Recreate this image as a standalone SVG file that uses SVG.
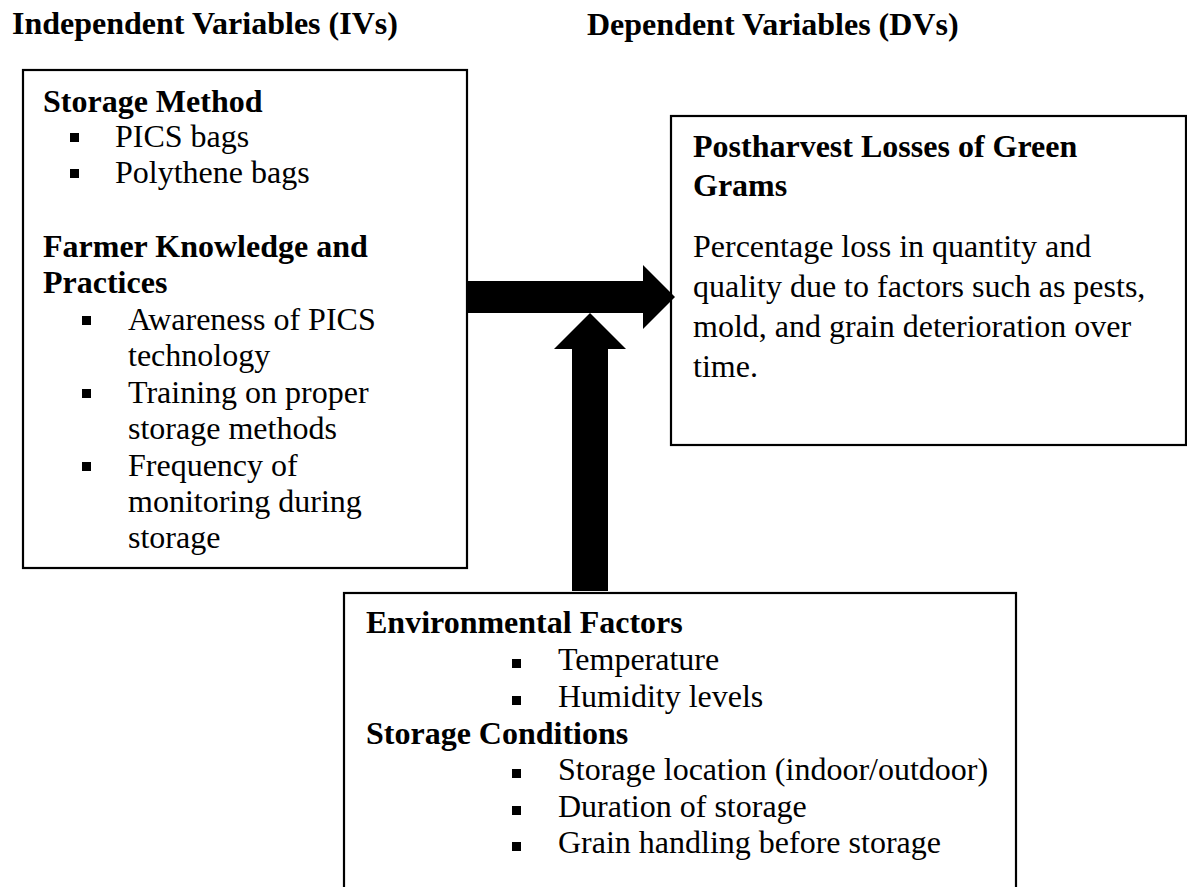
<svg xmlns="http://www.w3.org/2000/svg" width="1187" height="887" viewBox="0 0 1187 887">
  <style>
    .t { font-family: "Liberation Serif", "Times New Roman", serif; font-size: 32px; fill: #000; }
    .b { font-weight: bold; }
    .box { fill: #fff; stroke: #000; stroke-width: 2.2; }
    .bul { fill: #000; }
    .arrow { fill: #000; stroke: none; }
  </style>
  <rect width="1187" height="887" fill="#fff"/>

  <!-- column headings -->
  <g id="headings">
    <text class="t b" x="12" y="34">Independent Variables (IVs)</text>
    <text class="t b" x="587" y="35">Dependent Variables (DVs)</text>
  </g>

  <!-- independent variables -->
  <g id="node-iv">
    <rect class="box" x="23" y="70" width="444" height="498"/>
    <text class="t b" x="43" y="112">Storage Method</text>
    <rect class="bul" x="70" y="133" width="9" height="9"/>
    <text class="t" x="115" y="147">PICS bags</text>
    <rect class="bul" x="70" y="169" width="9" height="9"/>
    <text class="t" x="115" y="183">Polythene bags</text>
    <text class="t b" x="43" y="257">Farmer Knowledge and</text>
    <text class="t b" x="43" y="293">Practices</text>
    <rect class="bul" x="82" y="316" width="9" height="9"/>
    <text class="t" x="128" y="330">Awareness of PICS</text>
    <text class="t" x="128" y="366">technology</text>
    <rect class="bul" x="82" y="389" width="9" height="9"/>
    <text class="t" x="128" y="403">Training on proper</text>
    <text class="t" x="128" y="439">storage methods</text>
    <rect class="bul" x="82" y="462" width="9" height="9"/>
    <text class="t" x="128" y="476">Frequency of</text>
    <text class="t" x="128" y="512">monitoring during</text>
    <text class="t" x="128" y="548">storage</text>
  </g>

  <!-- dependent variable -->
  <g id="node-dv">
    <rect class="box" x="671" y="116" width="515" height="329"/>
    <text class="t b" x="693" y="157">Postharvest Losses of Green</text>
    <text class="t b" x="693" y="196">Grams</text>
    <text class="t" x="693" y="257">Percentage loss in quantity and</text>
    <text class="t" x="693" y="297">quality due to factors such as pests,</text>
    <text class="t" x="693" y="337">mold, and grain deterioration over</text>
    <text class="t" x="693" y="377">time.</text>
  </g>

  <!-- moderating / intervening factors -->
  <g id="node-env">
    <rect class="box" x="344" y="593" width="672" height="310"/>
    <text class="t b" x="366" y="633">Environmental Factors</text>
    <rect class="bul" x="512" y="659" width="9" height="9"/>
    <text class="t" x="558" y="670">Temperature</text>
    <rect class="bul" x="512" y="696" width="9" height="9"/>
    <text class="t" x="558" y="707">Humidity levels</text>
    <text class="t b" x="366" y="744">Storage Conditions</text>
    <rect class="bul" x="512" y="769" width="9" height="9"/>
    <text class="t" x="558" y="780">Storage location (indoor/outdoor)</text>
    <rect class="bul" x="512" y="806" width="9" height="9"/>
    <text class="t" x="558" y="817">Duration of storage</text>
    <rect class="bul" x="512" y="842" width="9" height="9"/>
    <text class="t" x="558" y="853">Grain handling before storage</text>
  </g>

  <!-- block arrows -->
  <g id="connectors">
    <polygon class="arrow" points="467,281 643,281 643,265 675,297 643,329 643,313 467,313"/>
    <polygon class="arrow" points="572,591 572,349 554,349 590,313 626,349 608,349 608,591"/>
  </g>
</svg>
